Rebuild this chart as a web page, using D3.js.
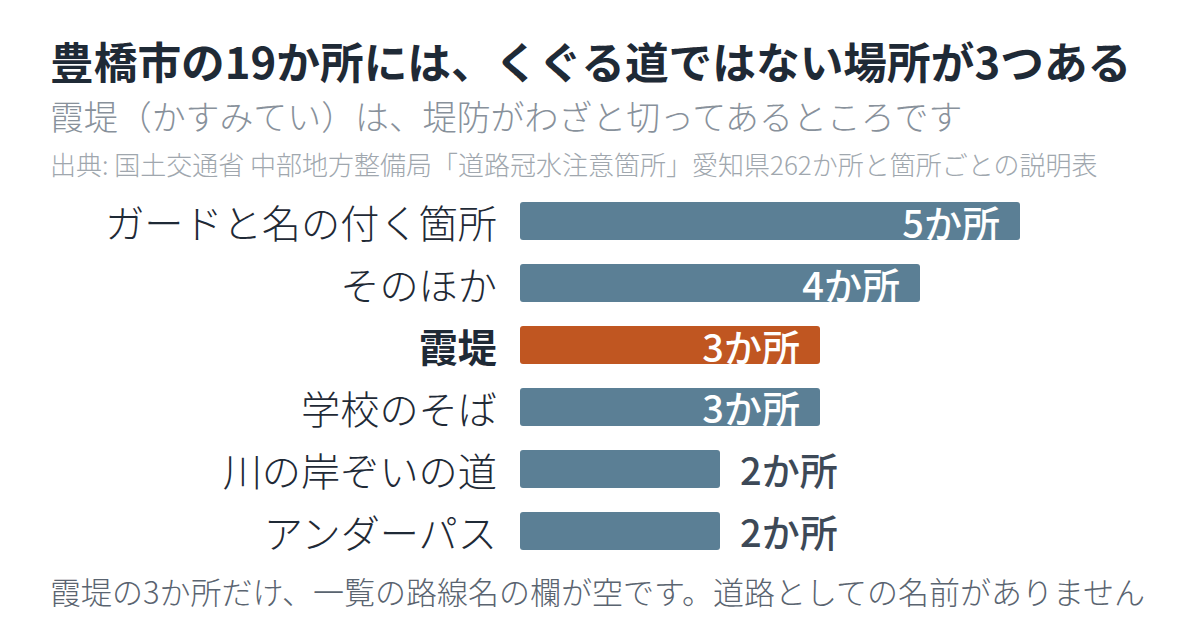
<!DOCTYPE html>
<html>
<head>
<meta charset="utf-8">
<script src="https://cdn.jsdelivr.net/npm/d3@7"></script>
<style>
  html, body { margin: 0; padding: 0; background: #fff; }
  svg { display: block; font-family: "Noto Sans CJK JP", "Noto Sans", sans-serif; }
</style>
</head>
<body>
<script>
const categories = ["ガードと名の付く箇所", "そのほか", "霞堤", "学校のそば", "川の岸ぞいの道", "アンダーパス"];
const counts = [5, 4, 3, 3, 2, 2];
const highlight = "霞堤";
const unit = "か所";
const titleText = "豊橋市の19か所には、くぐる道ではない場所が3つある";
const subtitleText = "霞堤（かすみてい）は、堤防がわざと切ってあるところです";
const sourceText = "出典: 国土交通省 中部地方整備局「道路冠水注意箇所」愛知県262か所と箇所ごとの説明表";
const noteText = "霞堤の3か所だけ、一覧の路線名の欄が空です。道路としての名前がありません";

const W = 1200, H = 638;
const svg = d3.select("body").append("svg").attr("width", W).attr("height", H);

svg.append("text").attr("x", 50).attr("y", 79)
  .attr("font-size", 43.7).attr("font-weight", 700).attr("fill", "#1f2a36")
  .text(titleText);
svg.append("text").attr("x", 50).attr("y", 130)
  .attr("font-size", 33.9).attr("font-weight", 300).attr("fill", "#88919b")
  .text(subtitleText);
svg.append("text").attr("x", 50).attr("y", 175)
  .attr("font-size", 26).attr("font-weight", 300).attr("fill", "#a0a7ae")
  .text(sourceText);
svg.append("text").attr("x", 50).attr("y", 604)
  .attr("font-size", 31).attr("font-weight", 300).attr("fill", "#5a6470")
  .text(noteText);

const data = categories.map((c, i) => ({ cat: c, v: counts[i] }));

const x = d3.scaleLinear().domain([0, 5]).range([520, 1020]);
const y = d3.scaleBand().domain(categories).range([202, 550]).paddingInner(0.387).paddingOuter(0);

const g = svg.append("g");

g.selectAll("rect.bar").data(data).join("rect")
  .attr("class", "bar")
  .attr("x", x(0))
  .attr("y", d => y(d.cat))
  .attr("width", d => x(d.v) - x(0))
  .attr("height", y.bandwidth())
  .attr("rx", 3).attr("ry", 3)
  .attr("fill", d => d.cat === highlight ? "#c05621" : "#5b7f95");

g.selectAll("text.cat").data(data).join("text")
  .attr("class", "cat")
  .attr("x", 497)
  .attr("y", d => y(d.cat) + y.bandwidth() / 2)
  .attr("dominant-baseline", "central")
  .attr("text-anchor", "end")
  .attr("font-size", 39.2)
  .attr("font-weight", d => d.cat === highlight ? 700 : 300)
  .attr("fill", "#1f2a36")
  .text(d => d.cat);

g.selectAll("text.val").data(data).join("text")
  .attr("class", "val")
  .attr("x", d => d.v >= 3 ? x(d.v) - 20 : x(d.v) + 20)
  .attr("y", d => y(d.cat) + y.bandwidth() / 2)
  .attr("dominant-baseline", "central")
  .attr("text-anchor", d => d.v >= 3 ? "end" : "start")
  .attr("font-size", 38)
  .attr("font-weight", 500)
  .attr("fill", d => d.v >= 3 ? "#ffffff" : "#3d4957")
  .text(d => d.v + unit);
</script>
</body>
</html>
